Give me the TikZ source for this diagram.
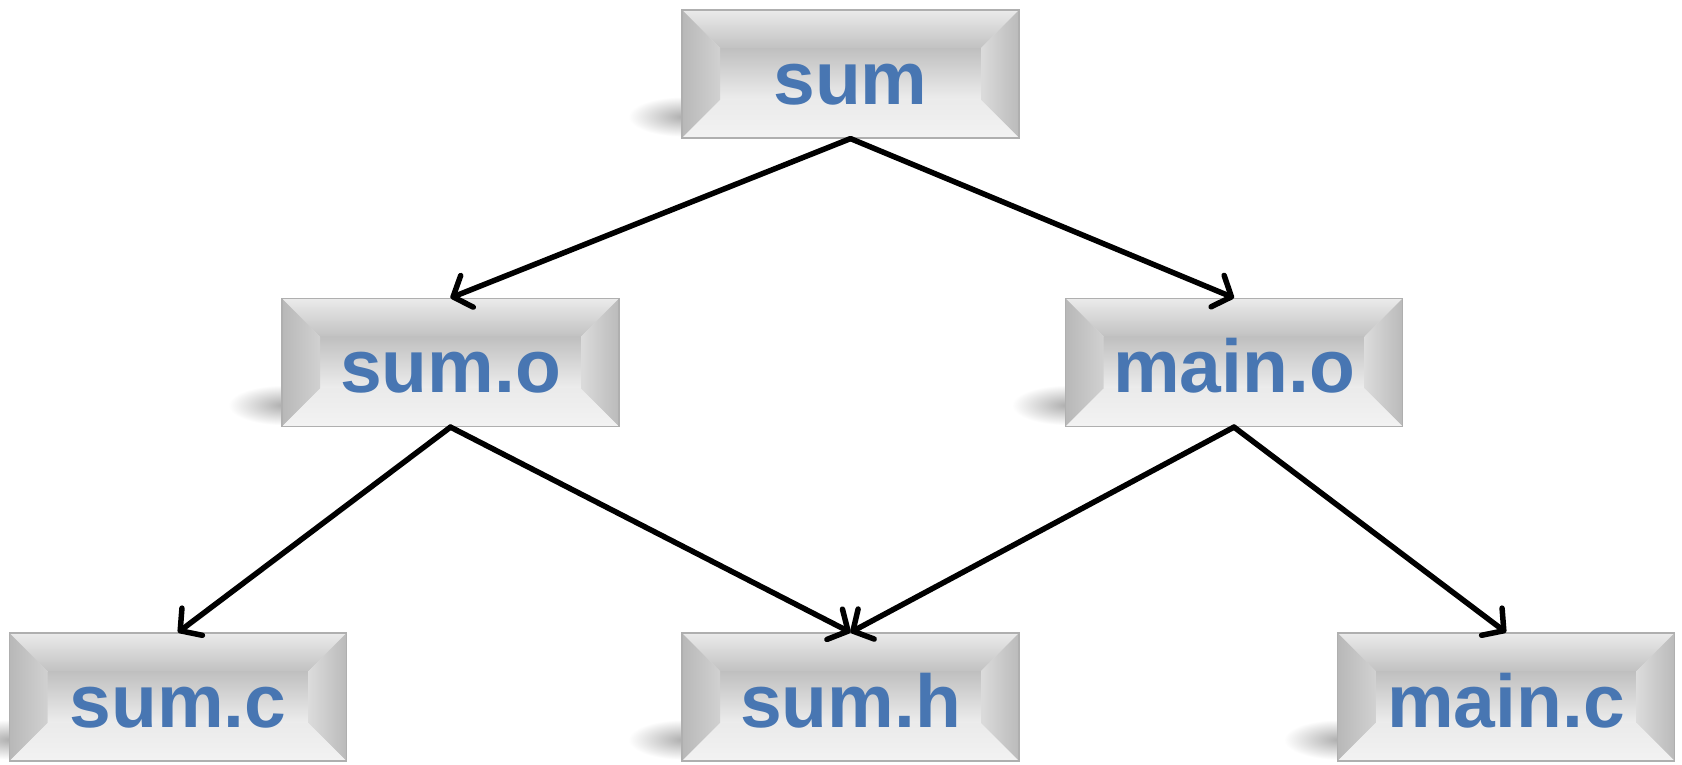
\documentclass[tikz,border=0pt]{standalone}
\usepackage{fontspec}
\setmainfont{Liberation Sans}
\usetikzlibrary{arrows.meta,calc,backgrounds}
\definecolor{txtblue}{RGB}{72,118,178}
\definecolor{edgegray}{RGB}{175,175,175}
\tikzset{
  bevelbox/.style={rectangle, minimum width=337pt, minimum height=128pt, inner sep=0pt,
    draw=edgegray, line width=1.2pt, fill=black!12,
    font=\fontsize{75}{82}\selectfont\bfseries, text=txtblue,
    text height=60pt, text depth=0pt,
    path picture={
      \coordinate (NW) at (path picture bounding box.north west);
      \coordinate (NE) at (path picture bounding box.north east);
      \coordinate (SW) at (path picture bounding box.south west);
      \coordinate (SE) at (path picture bounding box.south east);
      \coordinate (iNW) at ($(NW)+(38pt,-38pt)$);
      \coordinate (iNE) at ($(NE)+(-38pt,-38pt)$);
      \coordinate (iSW) at ($(SW)+(38pt,38pt)$);
      \coordinate (iSE) at ($(SE)+(-38pt,38pt)$);
      \shade[top color=black!25, bottom color=black!7] (iNW) rectangle (iSE);
      \shade[top color=black!8, bottom color=black!24] (NW) -- (NE) -- (iNE) -- (iNW) -- cycle;
      \shade[left color=black!28, right color=black!18] (NW) -- (iNW) -- (iSW) -- (SW) -- cycle;
      \shade[left color=black!14, right color=black!27] (NE) -- (iNE) -- (iSE) -- (SE) -- cycle;
      \shade[top color=black!8, bottom color=black!5] (SW) -- (iSW) -- (iSE) -- (SE) -- cycle;
    }},
  conn/.style={line width=5.5pt, line cap=round, -{Straight Barb[length=15pt, width=34pt, round]}},
  boxshadow/.style={inner color=black!32, outer color=white},
}
\begin{document}
\begin{tikzpicture}[x=1pt, y=-1pt]
  \useasboundingbox (0,0) rectangle (1682,764);
  \node[bevelbox] (sum)   at (850.5,74)  {sum};
  \node[bevelbox] (sumo)  at (450.5,362.5) {sum.o};
  \node[bevelbox] (maino) at (1234,362.5)  {main.o};
  \node[bevelbox] (sumc)  at (178,697)   {sum.c};
  \node[bevelbox] (sumh)  at (850.5,697) {sum.h};
  \node[bevelbox] (mainc) at (1506,697)  {main.c};

  \begin{scope}[on background layer]
    \fill[white] (0,0) rectangle (1682,764);
    \foreach \n in {sum,sumo,maino,sumc,sumh,mainc}{
      \shade[boxshadow] ($(\n.south west)+(2pt,22pt)$) ellipse [x radius=55pt, y radius=20pt];
    }
  \end{scope}

  \draw[conn] (sum.south) -- (sumo.north);
  \draw[conn] (sum.south) -- (maino.north);
  \draw[conn] (sumo.south) -- (sumc.north);
  \draw[conn] (sumo.south) -- (sumh.north);
  \draw[conn] (maino.south) -- (sumh.north);
  \draw[conn] (maino.south) -- (mainc.north);
\end{tikzpicture}
\end{document}
